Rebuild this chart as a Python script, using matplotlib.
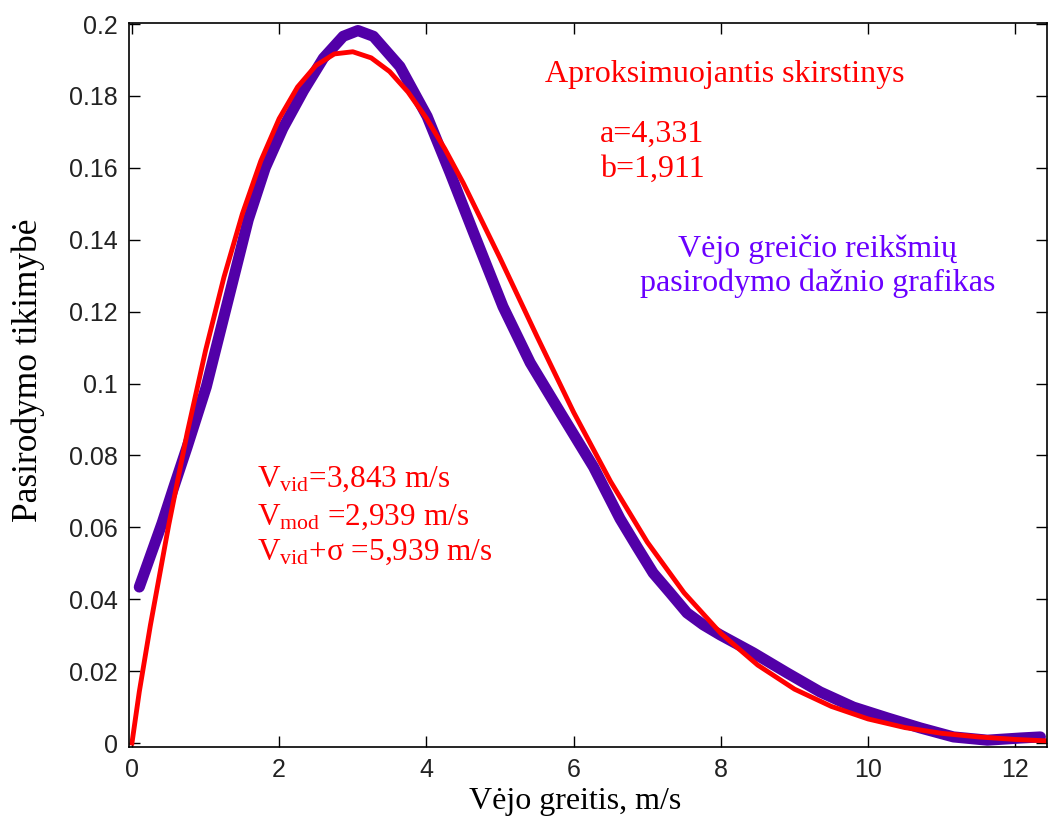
import matplotlib
matplotlib.use("Agg")
import matplotlib.pyplot as plt

# Fitted (approximating) distribution - red
fit_x = [0, 0.1, 0.25, 0.5, 0.75, 1, 1.25, 1.5, 1.75, 2, 2.25, 2.5, 2.75, 3, 3.25, 3.5, 3.75,
         4, 4.25, 4.5, 5, 5.5, 6, 6.5, 7, 7.5, 8, 8.5, 9, 9.5, 10, 10.5, 11, 11.5, 12, 12.43]
fit_y = [0, 0.0143, 0.0327, 0.0607, 0.0862, 0.1092, 0.1296, 0.1472, 0.1619, 0.1737, 0.1825,
         0.1885, 0.1917, 0.1923, 0.1906, 0.1868, 0.1811, 0.1738, 0.1653, 0.1558, 0.1349,
         0.1132, 0.0920, 0.0728, 0.0559, 0.0418, 0.0305, 0.0217, 0.0150, 0.0102, 0.0067,
         0.0043, 0.0027, 0.0017, 0.0010, 0.0006]

# Observed wind speed frequency - purple
obs_x = [0.10, 0.41, 0.57, 0.75, 1.01, 1.41, 1.58, 1.81, 2.05, 2.33, 2.60, 2.87, 3.07, 3.28,
         3.64, 4.01, 4.32, 4.64, 5.04, 5.41, 5.82, 6.27, 6.63, 6.86, 7.08, 7.31, 7.54, 7.76,
         7.99, 8.44, 8.90, 9.35, 9.80, 10.26, 10.71, 11.16, 11.62, 12.07, 12.34]
obs_y = [0.0434, 0.0612, 0.0713, 0.0824, 0.0991, 0.1317, 0.1456, 0.1600, 0.1710, 0.1815,
         0.1905, 0.1966, 0.1982, 0.1966, 0.1882, 0.1743, 0.1587, 0.1420, 0.1214, 0.1058,
         0.0919, 0.0768, 0.0624, 0.0546, 0.0473, 0.0418, 0.0362, 0.0329, 0.0301, 0.0251,
         0.0195, 0.0142, 0.0100, 0.0070, 0.0042, 0.0017, 0.0008, 0.0014, 0.0017]

x_ticks = [0, 2, 4, 6, 8, 10, 12]
y_ticks = [0, 0.02, 0.04, 0.06, 0.08, 0.1, 0.12, 0.14, 0.16, 0.18, 0.2]
y_tick_labels = ["0", "0.02", "0.04", "0.06", "0.08", "0.1", "0.12", "0.14", "0.16", "0.18", "0.2"]

plt.rcParams['mathtext.fontset'] = 'custom'
plt.rcParams['mathtext.rm'] = 'Liberation Serif'
plt.rcParams['mathtext.it'] = 'Liberation Serif:italic'

W, H = 1048, 823
fig = plt.figure(figsize=(W / 100, H / 100), dpi=100)
ax = fig.add_axes([129 / W, (H - 747) / H, (1047 - 129) / W, (747 - 23) / H])

PURPLE_LINE = '#5200A8'
PURPLE_TEXT = '#6A00FF'
RED = '#FF0000'

ax.plot(obs_x, obs_y, color=PURPLE_LINE, lw=8, solid_capstyle='round', solid_joinstyle='round')
ax.plot(fit_x, fit_y, color=RED, lw=3.5, solid_joinstyle='round')

ax.set_xlim(-0.04, 12.43)
ax.set_ylim(-0.0011, 0.2003)
ax.set_xticks(x_ticks)
ax.set_yticks(y_ticks)
ax.set_yticklabels(y_tick_labels)
ax.tick_params(direction='in', length=8, width=1, top=True, right=True,
               labelsize=18, pad=8, colors='black')
for lab in ax.get_xticklabels() + ax.get_yticklabels():
    lab.set_fontfamily('Liberation Sans')
    lab.set_color('#222222')
for s in ax.spines.values():
    s.set_linewidth(1.2)

def px(x, y):
    return x / W, 1 - y / H

serif = 'Liberation Serif'
fig.text(*px(575, 809), 'Vėjo greitis, m/s', family=serif, fontsize=23, ha='center', va='baseline')
fig.text(*px(28, 370), 'Pasirodymo tikimybė', family=serif, fontsize=25.5, ha='center', va='center',
         rotation=90)

fig.text(*px(545, 82), 'Aproksimuojantis skirstinys', family=serif, fontsize=23, color=RED,
         ha='left', va='baseline')
fig.text(*px(600, 142), 'a=4,331', family=serif, fontsize=23, color=RED, ha='left', va='baseline')
fig.text(*px(600, 177), 'b=1,911', family=serif, fontsize=23, color=RED, ha='left', va='baseline')
fig.text(*px(818, 257), 'Vėjo greičio reikšmių', family=serif, fontsize=23, color=PURPLE_TEXT,
         ha='center', va='baseline')
fig.text(*px(818, 291), 'pasirodymo dažnio grafikas', family=serif, fontsize=23, color=PURPLE_TEXT,
         ha='center', va='baseline')

fig.text(*px(257, 487), r'V$_{\mathrm{vid}}$=3,843 m/s', family=serif, fontsize=22.5, color=RED,
         ha='left', va='baseline')
fig.text(*px(257, 525), r'V$_{\mathrm{mod}}$ =2,939 m/s', family=serif, fontsize=22.5, color=RED,
         ha='left', va='baseline')
fig.text(*px(257, 560), r'V$_{\mathrm{vid}}$+σ =5,939 m/s', family=serif, fontsize=22.5, color=RED,
         ha='left', va='baseline')

fig.savefig('out.png', dpi=100)
